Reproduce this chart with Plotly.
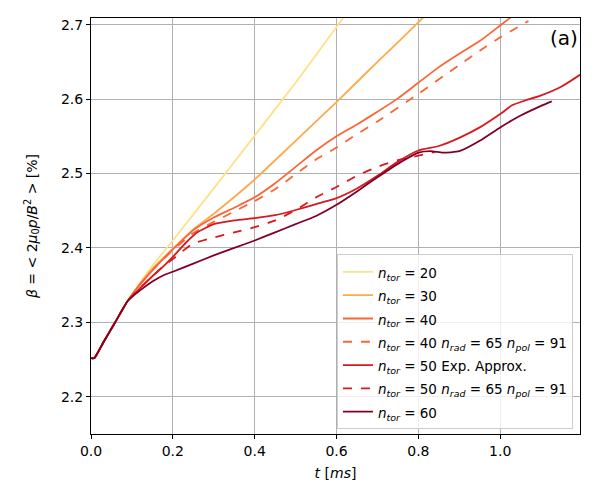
import plotly.graph_objects as go

# ---- data ----
t20 = [0, 0.008, 0.03, 0.06, 0.09, 0.12, 0.15, 0.2, 0.3, 0.4, 0.5, 0.6, 0.64]
b20 = [2.252, 2.252, 2.273, 2.301, 2.329, 2.353, 2.376, 2.410, 2.480, 2.551, 2.622, 2.697, 2.727]

t30 = [0, 0.008, 0.03, 0.06, 0.09, 0.12, 0.15, 0.2, 0.25, 0.3, 0.4, 0.5, 0.6, 0.7, 0.8, 0.83]
b30 = [2.252, 2.252, 2.273, 2.301, 2.329, 2.352, 2.372, 2.399, 2.425, 2.446, 2.492, 2.544, 2.596, 2.650, 2.703, 2.72]

t40 = [0, 0.008, 0.03, 0.06, 0.09, 0.12, 0.15, 0.2, 0.25, 0.3, 0.35, 0.4, 0.45, 0.5, 0.55,
       0.6, 0.65, 0.7, 0.75, 0.8, 0.85, 0.9, 0.95, 1.0, 1.05]
b40 = [2.252, 2.252, 2.273, 2.301, 2.329, 2.351, 2.370, 2.398, 2.424, 2.441, 2.454, 2.468, 2.487, 2.509, 2.531,
       2.550, 2.566, 2.583, 2.601, 2.622, 2.643, 2.661, 2.678, 2.699, 2.72]

t40r = [0, 0.008, 0.03, 0.06, 0.09, 0.12, 0.15, 0.2, 0.25, 0.3, 0.35, 0.4, 0.45, 0.5, 0.55,
        0.6, 0.65, 0.7, 0.8, 0.9, 0.95, 1.0, 1.069]
b40r = [2.252, 2.252, 2.273, 2.301, 2.329, 2.351, 2.370, 2.397, 2.420, 2.435, 2.449, 2.463, 2.479, 2.499, 2.519,
        2.535, 2.553, 2.570, 2.607, 2.646, 2.665, 2.683, 2.705]

t50 = [0, 0.008, 0.03, 0.06, 0.09, 0.12, 0.15, 0.18, 0.2, 0.23, 0.26, 0.3, 0.35, 0.4, 0.45, 0.5, 0.55,
       0.6, 0.65, 0.7, 0.75, 0.8, 0.85, 0.9, 0.95, 1.0, 1.03, 1.06, 1.1, 1.15, 1.196]
b50 = [2.252, 2.252, 2.273, 2.301, 2.329, 2.346, 2.362, 2.377, 2.388, 2.406, 2.421, 2.432, 2.437, 2.440, 2.444,
       2.451, 2.459, 2.467, 2.480, 2.497, 2.516, 2.531, 2.537, 2.548, 2.562, 2.580, 2.592, 2.598, 2.605, 2.617, 2.633]

t50r = [0, 0.008, 0.03, 0.06, 0.09, 0.12, 0.15, 0.18, 0.2, 0.22, 0.25, 0.3, 0.35, 0.4, 0.45, 0.5, 0.55,
        0.6, 0.65, 0.7, 0.75, 0.8, 0.841]
b50r = [2.252, 2.252, 2.273, 2.301, 2.329, 2.346, 2.362, 2.377, 2.385, 2.394, 2.406, 2.414, 2.421, 2.428, 2.437,
        2.451, 2.468, 2.482, 2.497, 2.509, 2.518, 2.524, 2.529]

t60 = [0, 0.008, 0.03, 0.06, 0.09, 0.12, 0.15, 0.18, 0.2, 0.25, 0.3, 0.35, 0.4, 0.45, 0.5, 0.55, 0.6,
       0.65, 0.7, 0.75, 0.8, 0.83, 0.86, 0.9, 0.95, 1.0, 1.05, 1.1, 1.126]
b60 = [2.252, 2.252, 2.273, 2.301, 2.329, 2.343, 2.355, 2.364, 2.368, 2.379, 2.390, 2.400, 2.410, 2.421, 2.432,
       2.443, 2.458, 2.476, 2.495, 2.513, 2.528, 2.530, 2.528, 2.530, 2.544, 2.562, 2.578, 2.591, 2.597]

x_ticks = [0.0, 0.2, 0.4, 0.6, 0.8, 1.0]
y_ticks = [2.2, 2.3, 2.4, 2.5, 2.6, 2.7]

NT = "<i>n</i><sub><i>tor</i></sub>"
NR = "<i>n</i><sub><i>rad</i></sub>"
NP = "<i>n</i><sub><i>pol</i></sub>"
labels = [
    f"{NT} = 20",
    f"{NT} = 30",
    f"{NT} = 40",
    f"{NT} = 40 {NR} = 65 {NP} = 91",
    f"{NT} = 50 Exp. Approx.",
    f"{NT} = 50 {NR} = 65 {NP} = 91",
    f"{NT} = 60",
]
colors = ["#fee187", "#fea94c", "#fb6536", "#fb6536", "#d7191f", "#d7191f", "#800026"]
dashes = ["solid", "solid", "solid", "dash", "solid", "dash", "solid"]
xs = [t20, t30, t40, t40r, t50, t50r, t60]
ys = [b20, b30, b40, b40r, b50, b50r, b60]

fig = go.Figure()
for t, b, name, col, dash in zip(xs, ys, labels, colors, dashes):
    fig.add_trace(go.Scatter(
        x=t, y=b, mode="lines",
        name=f'<span style="font-size:13.5px">{name}</span>',
        line=dict(color=col, width=1.8, dash=dash, shape="spline", smoothing=0.5)))

axis_common = dict(showline=True, linecolor="black", linewidth=1, mirror=True,
                   ticks="outside", ticklen=4, tickcolor="black",
                   showgrid=True, gridcolor="#b0b0b0", gridwidth=0.8, zeroline=False,
                   automargin=False,
                   tickfont=dict(size=14, color="black"))

fig.update_layout(
    width=600, height=500,
    margin=dict(l=83, r=28, t=10, b=74),
    paper_bgcolor="white", plot_bgcolor="white",
    font=dict(family="DejaVu Sans", color="black"),
    xaxis=dict(range=[0, 1.195], tickvals=x_ticks, tickformat=".1f",
               title=dict(text="<i>t</i> [<i>ms</i>]", font=dict(size=14), standoff=10), **axis_common),
    yaxis=dict(range=[2.15, 2.709], tickvals=y_ticks, tickformat=".1f",
               title=dict(text="<i>β</i> = < 2<i>μ</i><sub>0</sub><i>p</i>/<i>B</i><sup>2</sup> > [%]",
                          font=dict(size=14), standoff=20), **axis_common),
    legend=dict(x=0.503, y=0.432, xanchor="left", yanchor="top",
                bgcolor="rgba(255,255,255,0.8)", bordercolor="#cccccc", borderwidth=1,
                font=dict(size=15.6), itemwidth=30, tracegroupgap=0),
    showlegend=True,
    annotations=[dict(text="(a)", x=1.0, y=0.985, xref="paper", yref="paper",
                      xanchor="right", yanchor="top", showarrow=False,
                      font=dict(size=20, color="black"))],
)

fig.write_html("out.html")
